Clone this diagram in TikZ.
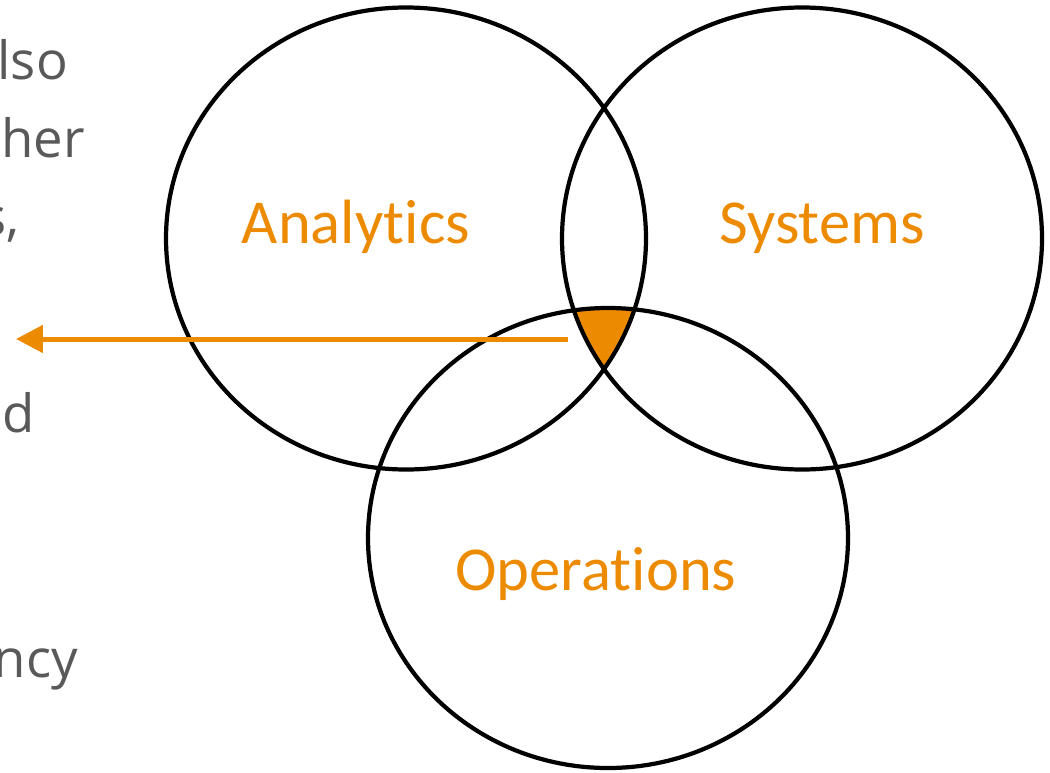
\documentclass[tikz,border=0pt]{standalone}
\usepackage{fontspec}
\newfontfamily\labelfont[Ligatures=NoCommon]{Carlito}
\newfontfamily\bodyfont{Open Sans}
\usetikzlibrary{arrows.meta}

\definecolor{vennorange}{RGB}{237,139,0}
\definecolor{bodygray}{RGB}{89,89,89}

\begin{document}
\begin{tikzpicture}[
                        x=0.02cm,
                        y=0.02cm,
                        line width=2.4pt
                    ]
                    \tikzstyle{set label}=[text=vennorange,inner sep=0pt,anchor=base,font=\labelfont\fontsize{35.6}{42}\selectfont]
                    \tikzstyle{side text}=[text=bodygray,inner sep=0pt,anchor=base east,font=\bodyfont\fontsize{30}{36}\selectfont]
                    \tikzstyle{pointer}=[-{Triangle[length=0.54cm,width=0.54cm]},vennorange,line width=0.1cm]

                    \useasboundingbox (0,0) rectangle (1050,772);
                    \clip (0,0) rectangle (1050,772);

                    \coordinate (A) at (406,533.5);
                    \coordinate (S) at (802,533.5);
                    \coordinate (O) at (608,234);

                    % common part of the three sets
                    \begin{scope}
                        \clip (A) ellipse [x radius=240,y radius=231];
                        \clip (S) ellipse [x radius=240,y radius=231];
                        \fill[vennorange] (O) ellipse [x radius=240,y radius=230];
                    \end{scope}

                    \draw (A) ellipse [x radius=240,y radius=231];
                    \draw (S) ellipse [x radius=240,y radius=231];
                    \draw (O) ellipse [x radius=240,y radius=230];

                    \node[set label] (analytics)  at (356,529) {Analytics};
                    \node[set label] (systems)    at (822,529) {Systems};
                    \node[set label] (operations) at (596,182) {Operations};

                    \coordinate (from) at (568,433);
                    \coordinate (to)   at (16,433);
                    \draw[pointer] (from) -- (to);

                    \node[side text] (t1) at (70,692) {lso};
                    \node[side text] (t2) at (87,615) {her};
                    \node[side text] (t3) at (22,537) {s,};
                    \node[side text] (t4) at (37,340) {nd};
                    \node[side text] (t5) at (80,95)  {ncy};
                \end{tikzpicture}
\end{document}
